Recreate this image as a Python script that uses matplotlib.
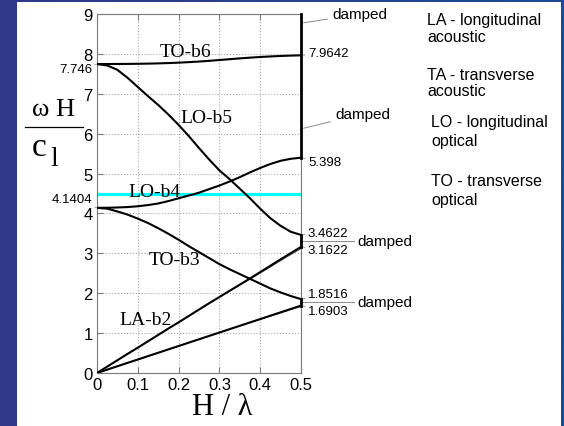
import matplotlib
matplotlib.use("Agg")
import matplotlib.pyplot as plt
import matplotlib.patches as patches
from matplotlib.colors import LinearSegmentedColormap
from matplotlib.lines import Line2D
import numpy as np

# Reduced wavenumber H / lambda (dispersion branches sampled every 0.025)
h_lambda = np.linspace(0.0, 0.5, 21)

to_b6 = [7.746, 7.746, 7.747, 7.749, 7.752, 7.756, 7.762, 7.770, 7.780, 7.793, 7.808,
         7.826, 7.846, 7.867, 7.887, 7.906, 7.922, 7.936, 7.948, 7.957, 7.9642]
lo_b5 = [7.746, 7.71, 7.60, 7.40, 7.17, 6.94, 6.72, 6.48, 6.22, 5.94, 5.64,
         5.35, 5.08, 4.86, 4.62, 4.38, 4.12, 3.88, 3.69, 3.54, 3.4622]
lo_b4 = [4.1404, 4.142, 4.15, 4.16, 4.18, 4.21, 4.25, 4.31, 4.38, 4.45, 4.52,
         4.61, 4.70, 4.80, 4.91, 5.03, 5.14, 5.24, 5.32, 5.37, 5.398]
to_b3 = [4.1404, 4.12, 4.05, 3.97, 3.87, 3.76, 3.63, 3.49, 3.34, 3.18, 3.03,
         2.88, 2.73, 2.60, 2.48, 2.36, 2.24, 2.12, 2.02, 1.93, 1.8516]
la_b2 = [0.0, 0.16, 0.32, 0.48, 0.635, 0.795, 0.955, 1.115, 1.27, 1.43, 1.59,
         1.75, 1.905, 2.06, 2.215, 2.37, 2.53, 2.69, 2.85, 3.005, 3.1622]
la_b2_pair = [0.0, 0.16, 0.32, 0.48, 0.635, 0.795, 0.955, 1.115, 1.27, 1.43, 1.59,
              1.75, 1.905, 2.06, 2.21, 2.355, 2.505, 2.66, 2.815, 2.97, 3.12]
ta_b1 = [0.0, 0.085, 0.169, 0.254, 0.338, 0.423, 0.507, 0.592, 0.676, 0.761, 0.845,
         0.930, 1.014, 1.099, 1.183, 1.268, 1.352, 1.437, 1.521, 1.606, 1.6903]
ta_b1_pair = [0.0, 0.085, 0.169, 0.254, 0.338, 0.423, 0.507, 0.592, 0.676, 0.761, 0.845,
              0.930, 1.014, 1.099, 1.181, 1.262, 1.344, 1.425, 1.507, 1.588, 1.665]

cut_freq = 4.5                     # horizontal cyan line
damped_bands = [(5.398, 9.0), (3.1622, 3.4622), (1.6903, 1.8516)]

branch_names = ["TO-b6", "LO-b5", "LO-b4", "TO-b3", "LA-b2"]
branch_label_xy = [(0.216, 8.07), (0.267, 6.41), (0.14, 4.56), (0.191, 2.84), (0.118, 1.34)]

end_values = ["7.9642", "5.398", "3.4622", "3.1622", "1.8516", "1.6903"]
start_values = ["7.746", "4.1404"]

legend_lines = [["LA - longitudinal", "acoustic"], ["TA - transverse", "acoustic"],
                ["LO - longitudinal", "optical"], ["TO - transverse", "optical"]]

W, H = 564, 427
fig = plt.figure(figsize=(W / 100, H / 100), dpi=100)

def fx(px):
    return px / W

def fy(py):
    return 1 - py / H

# blue backdrop with white slide panel
bg = fig.add_axes([0, 0, 1, 1], zorder=-10)
cmap = LinearSegmentedColormap.from_list("slide", ["#30388a", "#1c4a94"])
bg.imshow(np.linspace(0, 1, 256)[None, :], aspect="auto", cmap=cmap, extent=[0, 1, 0, 1])
bg.add_patch(patches.Rectangle((fx(17), 0), fx(561) - fx(17), fy(3), facecolor="white",
                               edgecolor="none", transform=bg.transAxes))
bg.set_xlim(0, 1)
bg.set_ylim(0, 1)
bg.axis("off")

ax = fig.add_axes([fx(97), fy(374), fx(301) - fx(97), fy(15) - fy(374)])
ax.set_facecolor("none")

sans = ["Liberation Sans", "DejaVu Sans"]
serif = ["Liberation Serif", "DejaVu Serif"]

ax.axhline(cut_freq, xmin=0, xmax=1, color="#00ffff", lw=2.3, zorder=2)

for yv in [to_b6, lo_b5, lo_b4, to_b3, la_b2, ta_b1]:
    ax.plot(h_lambda, yv, color="black", lw=1.5, zorder=3)
# near-degenerate companion branches, drawn under the main ones
for yv in [la_b2_pair, ta_b1_pair]:
    ax.plot(h_lambda, yv, color="#444444", lw=0.7, zorder=2.5)

for lo, hi in damped_bands:
    ax.plot([0.5, 0.5], [lo, hi], color="black", lw=2.0, zorder=4, clip_on=False)

for name, (xx, yy) in zip(branch_names, branch_label_xy):
    ax.text(xx, yy, name, ha="center", va="center", fontsize=14, family=serif, zorder=5)

ax.set_xlim(0, 0.5)
ax.set_ylim(0, 9)
ax.set_xticks([0, 0.1, 0.2, 0.3, 0.4, 0.5])
ax.set_xticklabels(["0", "0.1", "0.2", "0.3", "0.4", "0.5"])
ax.set_yticks(range(10))
ax.grid(True, linestyle=":", color="#a8a8a8", lw=0.8)
for sp in ax.spines.values():
    sp.set_color("#7a7a7a")
    sp.set_linewidth(0.8)
ax.tick_params(direction="in", length=4, color="#7a7a7a", top=True, right=False,
               labelsize=12, pad=3)
for lab in ax.get_xticklabels() + ax.get_yticklabels():
    lab.set_family(sans)

# leader lines and values at the zone boundary
gray = "#8a8a8a"
note = dict(fontsize=9.5, family=sans, va="center", ha="left", annotation_clip=False)
ax.annotate("damped", xy=(0.5, 8.77), xytext=(0.578, 9.0),
            arrowprops=dict(arrowstyle="-", color=gray, lw=0.7), fontsize=11, family=sans,
            va="center", ha="left", annotation_clip=False)
ax.annotate("damped", xy=(0.5, 6.12), xytext=(0.585, 6.5),
            arrowprops=dict(arrowstyle="-", color=gray, lw=0.7), fontsize=11, family=sans,
            va="center", ha="left", annotation_clip=False)
end_xy = [(0.5, 7.9642), (0.5, 5.398), (0.5, 3.4622), (0.5, 3.1622), (0.5, 1.8516), (0.5, 1.6903)]
end_text_y = [8.02, 5.28, 3.52, 3.09, 1.97, 1.56]
for val, pt, ty in zip(end_values, end_xy, end_text_y):
    ax.annotate(val, xy=pt, xytext=(0.517, ty),
                arrowprops=dict(arrowstyle="-", color=gray, lw=0.6, shrinkA=0, shrinkB=0), **note)
for yy in [3.31, 1.78]:
    ax.plot([0.5, 0.63], [yy, yy], color=gray, lw=0.7, clip_on=False)
    ax.text(0.638, yy, "damped", fontsize=11, family=sans, va="center", ha="left")

ax.annotate(start_values[0], xy=(0, 7.746), xytext=(-0.012, 7.62),
            arrowprops=dict(arrowstyle="-", color=gray, lw=0.6, shrinkA=0, shrinkB=0),
            fontsize=9.5, family=sans, va="center", ha="right", annotation_clip=False)
ax.annotate(start_values[1], xy=(0, 4.1404), xytext=(-0.012, 4.36),
            arrowprops=dict(arrowstyle="-", color=gray, lw=0.6, shrinkA=0, shrinkB=0),
            fontsize=9.5, family=sans, va="center", ha="right", annotation_clip=False)

# axis titles
fig.text(fx(222), fy(408), "H / λ", fontsize=22, family=serif, ha="center", va="center")
fig.text(fx(54), fy(110), "ω H", fontsize=19, family=serif, ha="center", va="center")
fig.add_artist(Line2D([fx(25), fx(83)], [fy(128), fy(128)], color="black", lw=0.9))
fig.text(fx(39), fy(148), "c", fontsize=24, family=serif, ha="center", va="center")
fig.text(fx(54), fy(160), "l", fontsize=20, family=serif, ha="center", va="center")

# mode key
key_y = [(20, 37), (75, 92), (123, 142), (182, 200)]
key_x = [427, 427, 431, 431]
for (l1, l2), (y1, y2), kx in zip(legend_lines, key_y, key_x):
    fig.text(fx(kx), fy(y1), l1, fontsize=11.5, family=sans, va="center", ha="left")
    fig.text(fx(kx), fy(y2), l2, fontsize=11.5, family=sans, va="center", ha="left")

fig.savefig("out.png", dpi=100)
